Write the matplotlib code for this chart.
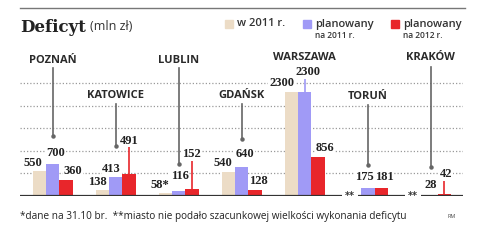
import numpy as np
import matplotlib
matplotlib.use('Agg')
import matplotlib.pyplot as plt

cities = ["POZNAŃ", "KATOWICE", "LUBLIN", "GDAŃSK", "WARSZAWA", "TORUŃ", "KRAKÓW"]
wyk_2011 = [550, 138, 58, 540, 2300, None, None]
plan_2011 = [700, 413, 116, 640, 2300, 175, 28]
plan_2012 = [360, 491, 152, 128, 856, 181, 42]
wyk_labels = ["550", "138", "58*", "540", "2300", "", ""]

series = [wyk_2011, plan_2011, plan_2012]
colors = ['#ecdcc6', '#a09af6', '#e8262b']
legend_texts = ["w 2011 r.", "planowany\nna 2011 r.", "planowany\nna 2012 r."]

# label offsets in pixels (dx, dy) from bar top centre
offs = [
    [(-6, 8), (3, 11), (7, 9)],
    [(-5, 8), (-4, 8), (0, 33)],
    [(-6, 8), (1, 15), (-1, 35)],
    [(-6, 9), (3, 13), (3, 9)],
    [(-10, 9), (3, 20), (7, 9)],
    [(0, 0), (-3, 11), (3, 11)],
    [(0, 0), (0, 10), (2, 20)],
]
connector = {(1, 2), (2, 2), (4, 1), (6, 2)}
# city name value-height and leader line (top, dot)
name_y = [3000, 2230, 3000, 2230, 3060, 2210, 3060]
lead = [(2830, 1330), (2030, 1106), (2830, 708), (2030, 1261), (2850, 2780), (2010, 686), (2850, 642)]

fig = plt.figure(figsize=(4.78, 2.45), dpi=100)
W, H = 478, 245
px0, px1, base, top = 20, 463, 196, 47
ax = fig.add_axes([px0 / W, (H - base) / H, (px1 - px0) / W, (base - top) / H])
ymax = (base - top) / 0.0452
ax.set_xlim(0, (px1 - px0) / 63.05)
ax.set_ylim(0, ymax)
ax.axis('off')

bw = 0.211
x0 = 0.201
for g in [500, 1000, 1500, 2000, 2500]:
    ax.plot([0, 7.02], [g, g], color='#9a9a9a', lw=0.9, ls=(0, (1, 1.6)), zorder=0)

numfont = dict(fontsize=9, fontweight='bold', family='Liberation Serif', color='#222222')
for i, city in enumerate(cities):
    for k, s in enumerate(series):
        v = s[i]
        if v is None:
            continue
        xl = i + x0 + k * bw
        ax.bar(xl, v, width=bw, align='edge', color=colors[k], zorder=2)
        txt = wyk_labels[i] if k == 0 else str(v)
        dx, dy = offs[i][k]
        if (i, k) in connector:
            ax.plot([xl + bw / 2, xl + bw / 2], [v, v + (dy - 6) / 0.0452],
                    color=colors[k], lw=1.2, zorder=1)
        ax.annotate(txt, xy=(xl + bw / 2, v), xytext=(dx, dy), textcoords='offset pixels',
                    ha='center', va='center', zorder=4,
                    bbox=dict(boxstyle='square,pad=0.05', fc='white', ec='none'), **numfont)
    # city name and leader line
    cx = i + x0 + 1.5 * bw
    ax.text(cx, name_y[i], city, ha='center', va='center', fontsize=8, family='Open Sans',
            fontweight='bold', color='#2a2a2a', clip_on=False, zorder=4,
            bbox=dict(boxstyle='square,pad=0.1', fc='white', ec='none'))
    t, d = lead[i]
    ax.plot([cx, cx], [t, d], color='#666666', lw=1.2, zorder=1, clip_on=False)
    if i != 4:
        ax.plot(cx, d, 'o', color='#666666', ms=2.2, zorder=1)

# baseline with gaps where no data
segs = [0]
for i in range(len(cities)):
    if wyk_2011[i] is None:
        segs += [i + 0.10, i + 0.36]
        ax.text(i + 0.23, 0, '**', ha='center', va='center', fontsize=7,
                fontweight='bold', color='#333333')
segs.append(7.02)
for a, b in zip(segs[::2], segs[1::2]):
    ax.plot([a, b], [0, 0], color='#333333', lw=1.6, zorder=3, solid_capstyle='butt')

# title, rule and legend
fig.add_artist(plt.Line2D([20 / W, 465 / W], [1 - 8 / H, 1 - 8 / H], color='#777777', lw=1))
fig.text(20 / W, 1 - 27 / H, 'Deficyt', fontsize=12, fontweight='bold', family='DejaVu Serif',
         color='#222222', va='center')
fig.text(90 / W, 1 - 27 / H, '(mln zł)', fontsize=9, family='Open Sans', color='#333333',
         va='center')
lx = [225, 303, 391]
for k in range(3):
    fig.patches.append(plt.Rectangle((lx[k] / W, 1 - 28 / H), 8 / W, 8 / H,
                                     transform=fig.transFigure, color=colors[k]))
    lines = legend_texts[k].split('\n')
    fig.text((lx[k] + 12) / W, 1 - 24 / H, lines[0], fontsize=8, family='Open Sans',
             fontweight='semibold', color='#333333', va='center')
    if len(lines) > 1:
        fig.text((lx[k] + 12) / W, 1 - 35 / H, lines[1], fontsize=6, family='Open Sans',
                 fontweight='semibold', color='#333333', va='center')

fig.text(20 / W, 1 - 217 / H,
         '*dane na 31.10 br.  **miasto nie podało szacunkowej wielkości wykonania deficytu',
         fontsize=7.2, family='Open Sans', color='#222222', va='center')
fig.text(447 / W, 1 - 217 / H, 'RM', fontsize=4, family='Open Sans', color='#444444',
         va='center')

fig.savefig('out.png', dpi=100)
